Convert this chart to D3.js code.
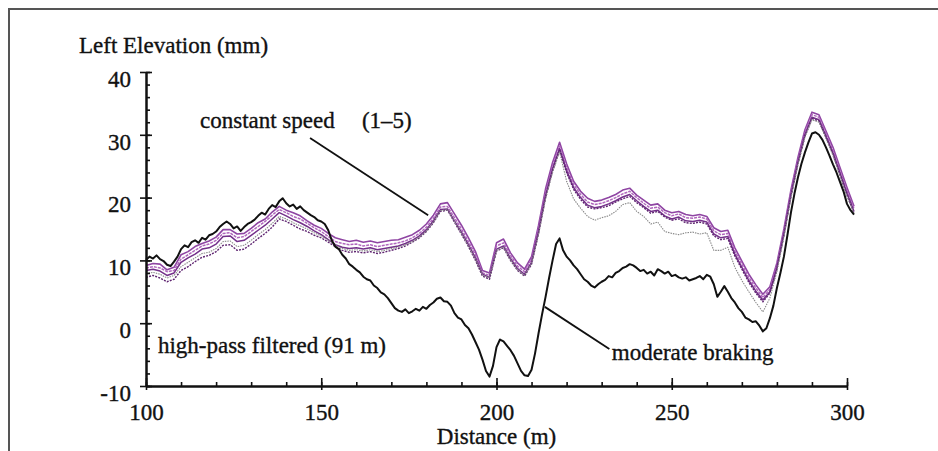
<!DOCTYPE html>
<html>
<head>
<meta charset="utf-8">
<script src="https://cdn.jsdelivr.net/npm/d3@7"></script>
<style>
  body { margin: 0; background: #fff; }
  svg { display: block; }
  text { font-family: "Liberation Serif", "Times New Roman", serif; fill: #111; stroke: #111; stroke-width: 0.35px; }
</style>
</head>
<body>
<div id="chart"></div>
<script>
// distances (m)
const distFine = d3.range(100, 303, 1);
const distCoarse = d3.range(100, 303, 2);

// moderate braking run, 1 m steps from 100 to 302
const braking = [
	10.1, 10.6, 10.3, 10.8, 10.2, 9.9, 9.3, 9.1, 9.8, 10.6,
	11.8, 12.4, 12.1, 12.9, 13.2, 12.8, 13.6, 13.3, 14.0, 14.2,
	14.6, 15.3, 15.8, 16.2, 15.8, 15.1, 15.4, 14.7, 15.3, 15.8,
	16.1, 16.5, 17.1, 17.6, 17.3, 18.2, 18.8, 18.5, 19.4, 19.9,
	19.1, 18.6, 18.9, 18.2, 18.6, 18.0, 17.6, 17.2, 16.9, 16.4,
	16.2, 15.8, 14.8, 13.2, 12.2, 11.8, 10.9, 10.3, 9.4, 9.0,
	8.5, 8.1, 7.4, 7.0, 6.8, 6.0, 5.6, 4.9, 4.6, 4.0,
	3.2, 2.4, 2.0, 1.8, 2.2, 1.6, 1.9, 2.3, 2.0, 2.6,
	2.3, 2.9, 3.3, 3.9, 4.1, 3.5, 3.4, 2.8, 1.6, 0.9,
	0.6, -0.3, -0.8, -1.8, -3.0, -4.2, -5.8, -7.6, -8.5, -6.8,
	-3.8, -2.6, -2.9, -3.6, -4.3, -5.2, -6.4, -7.6, -8.3, -8.4,
	-7.4, -4.8, -1.6, 1.4, 4.2, 7.2, 10.0, 12.6, 13.5, 11.6,
	10.6, 10.0, 9.2, 8.6, 7.8, 7.0, 6.6, 6.0, 5.7, 6.2,
	6.6, 6.9, 7.5, 7.3, 8.0, 8.3, 8.8, 9.0, 9.4, 9.2,
	8.8, 8.3, 8.5, 7.9, 8.2, 7.6, 8.6, 8.3, 7.9, 8.2,
	7.5, 7.7, 7.3, 7.1, 7.3, 6.8, 7.0, 7.2, 7.5, 7.0,
	7.7, 7.4, 6.2, 4.2, 5.0, 5.9, 5.0, 4.0, 3.3, 2.4,
	1.8, 0.9, 0.6, 0.2, 0.3, -0.4, -1.3, -0.8, 0.8, 2.8,
	5.6, 8.0, 10.6, 14.0, 17.6, 20.6, 23.2, 25.4, 27.2, 28.8,
	30.2, 30.4, 30.0, 29.2, 28.0, 26.7, 25.3, 24.0, 22.5, 21.0,
	19.0, 18.0, 17.3,
];

// constant speed runs 1-5, 2 m steps from 100 to 302
const run1 = [
	9.2, 9.5, 9.4, 8.5, 8.9, 10.9, 11.4, 12.2, 12.7, 13.1,
	13.7, 14.9, 14.9, 14.2, 14.3, 15.1, 16.0, 16.6, 17.7, 18.6,
	18.0, 17.6, 17.1, 16.3, 15.6, 15.1, 14.3, 13.6, 13.3, 13.0,
	13.2, 12.9, 13.1, 12.8, 13.0, 13.2, 13.3, 13.7, 14.1, 14.8,
	15.8, 17.2, 19.0, 19.2, 17.4, 15.6, 13.6, 11.4, 8.4, 8.0,
	12.8, 13.4, 11.2, 9.6, 8.6, 10.6, 15.6, 21.4, 25.6, 28.8,
	25.4, 22.6, 21.0, 19.9, 19.4, 19.6, 20.0, 20.5, 21.2, 21.5,
	20.4, 19.6, 18.8, 19.0, 18.0, 17.6, 17.8, 17.3, 17.1, 17.3,
	17.0, 15.2, 14.6, 14.8, 12.0, 9.9, 7.8, 6.1, 4.6, 5.8,
	9.6, 15.0, 21.2, 26.4, 30.8, 33.6, 33.2, 30.6, 28.0, 24.8,
	21.6, 18.6,
];
const run2 = [
	8.8, 9.0, 8.8, 8.2, 8.4, 10.2, 10.9, 11.6, 12.3, 12.6,
	13.2, 14.3, 14.4, 13.6, 13.8, 14.6, 15.4, 16.2, 17.2, 18.1,
	17.6, 17.0, 16.6, 15.9, 15.2, 14.6, 13.8, 13.0, 12.7, 12.5,
	12.6, 12.3, 12.5, 12.2, 12.4, 12.6, 12.8, 13.1, 13.6, 14.3,
	15.3, 16.7, 18.5, 18.6, 16.8, 15.0, 13.0, 10.9, 8.0, 7.6,
	12.3, 12.8, 10.8, 9.1, 8.2, 10.2, 15.1, 20.8, 25.0, 28.2,
	24.8, 22.1, 20.5, 19.3, 18.9, 19.1, 19.5, 20.0, 20.6, 21.0,
	20.0, 19.1, 18.3, 18.5, 17.6, 17.1, 17.4, 16.8, 16.7, 16.9,
	16.6, 14.7, 14.1, 14.3, 11.5, 9.4, 7.3, 5.6, 4.1, 5.4,
	9.2, 14.6, 20.8, 26.0, 30.4, 33.2, 32.8, 30.2, 27.5, 24.3,
	21.1, 18.2,
];
const run3 = [
	8.4, 8.6, 8.3, 7.6, 8.0, 9.7, 10.4, 11.0, 11.8, 12.0,
	12.6, 13.8, 13.9, 13.0, 13.2, 14.0, 14.8, 15.6, 16.6, 17.6,
	17.1, 16.5, 16.0, 15.4, 14.7, 14.1, 13.3, 12.5, 12.1, 11.9,
	12.0, 11.8, 12.0, 11.7, 11.9, 12.1, 12.3, 12.7, 13.2, 13.9,
	14.9, 16.3, 18.1, 18.2, 16.3, 14.5, 12.5, 10.4, 7.8, 7.3,
	11.8, 12.3, 10.3, 8.7, 7.8, 9.7, 14.6, 20.3, 24.6, 27.8,
	24.3, 21.6, 20.0, 18.8, 18.4, 18.6, 19.0, 19.5, 20.1, 20.5,
	19.5, 18.6, 17.8, 18.0, 17.1, 16.6, 16.9, 16.3, 16.2, 16.4,
	16.1, 14.2, 13.6, 13.8, 11.0, 8.9, 6.8, 5.1, 3.7, 5.0,
	8.8, 14.2, 20.4, 25.6, 30.0, 32.8, 32.4, 29.8, 27.1, 23.9,
	20.7, 17.8,
];
const run4 = [
	7.3, 7.6, 7.2, 6.6, 7.0, 8.4, 9.0, 9.8, 10.5, 10.8,
	11.4, 12.4, 12.5, 11.6, 11.8, 12.6, 13.5, 14.3, 15.3, 16.6,
	16.2, 15.6, 15.0, 14.6, 14.0, 13.6, 12.9, 12.2, 11.6, 11.3,
	11.4, 11.2, 11.4, 11.1, 11.3, 11.6, 11.9, 12.3, 12.9, 13.6,
	14.6, 16.0, 17.8, 18.0, 16.1, 14.2, 12.2, 10.0, 7.5, 7.0,
	11.5, 12.0, 10.0, 8.4, 7.5, 9.4, 14.3, 20.0, 24.3, 27.6,
	24.0, 21.3, 19.7, 18.5, 18.2, 18.4, 18.7, 19.3, 19.8, 20.2,
	19.2, 18.4, 17.5, 17.8, 16.9, 16.4, 16.6, 16.0, 15.9, 16.1,
	15.8, 13.9, 13.3, 13.5, 10.7, 8.6, 6.5, 4.8, 3.4, 4.8,
	8.6, 14.0, 20.2, 25.4, 29.8, 32.6, 32.2, 29.6, 26.9, 23.6,
	20.4, 17.6,
];
const run5 = [
	7.9, 8.1, 7.8, 7.2, 7.6, 9.0, 9.7, 10.4, 11.1, 11.3,
	11.9, 13.0, 13.1, 12.2, 12.4, 13.2, 14.1, 14.9, 15.9, 17.0,
	16.6, 16.0, 15.5, 15.0, 14.4, 13.9, 13.2, 12.4, 11.9, 11.6,
	11.7, 11.5, 11.7, 11.4, 11.6, 11.9, 12.1, 12.5, 13.0, 13.7,
	14.7, 16.1, 17.9, 18.1, 16.2, 14.3, 12.3, 10.2, 7.7, 7.2,
	11.6, 12.1, 10.1, 8.5, 7.6, 9.5, 14.2, 19.8, 24.0, 27.3,
	22.6, 19.8, 18.3, 17.0, 16.4, 16.8, 17.1, 17.8, 18.9, 19.2,
	17.8, 17.0, 15.8, 16.1, 14.6, 14.3, 14.1, 14.4, 14.5, 14.2,
	14.4, 11.6, 11.6, 12.1, 8.9, 6.8, 5.0, 3.3, 1.8, 4.0,
	8.2, 13.7, 19.9, 25.2, 29.6, 32.4, 32.0, 29.4, 26.7, 23.4,
	20.2, 17.5,
];

const runColors = ['#8f45a3', '#b066bd', '#74308a', '#5e2470', '#8a8a8a'];
const runWidths = [1.6, 1.5, 1.5, 1.4, 1.1];
const runDashes = [null, '3,1', null, '2,1.2', '1.5,1'];

const xMajor = [100, 150, 200, 250, 300];
const yMajor = [-10, 0, 10, 20, 30, 40];

const width = 938;
const height = 451;

const svg = d3.select('#chart').append('svg')
	.attr('width', width)
	.attr('height', height);

// frame
svg.append('rect')
	.attr('x', 9).attr('y', 9)
	.attr('width', 940).attr('height', 450)
	.attr('fill', 'none')
	.attr('stroke', '#555')
	.attr('stroke-width', 2);

const x = d3.scaleLinear().domain([100, 300]).range([146, 847]);
const y = d3.scaleLinear().domain([-10, 40]).range([386, 72]);

// curves
const runs = [run1, run2, run3, run4, run5];
const line = d3.line()
	.x(d => x(d[0]))
	.y(d => y(d[1]));

svg.selectAll('.run')
	.data(runs)
	.enter().append('path')
		.attr('class', 'run')
		.attr('d', r => line(r.map((v, i) => [distCoarse[i], v])))
		.attr('fill', 'none')
		.attr('stroke', (r, i) => runColors[i])
		.attr('stroke-width', (r, i) => runWidths[i])
		.attr('stroke-dasharray', (r, i) => runDashes[i])
		.attr('stroke-linejoin', 'round');

svg.append('path')
	.attr('d', line(braking.map((v, i) => [distFine[i], v])))
	.attr('fill', 'none')
	.attr('stroke', '#111')
	.attr('stroke-width', 2)
	.attr('stroke-linejoin', 'round');

// axes: one labelled axis each, plus helper tick sets with no domain line
const fmt = d => String(d);
const yAxisMajor = d3.axisLeft(y).tickValues(yMajor).tickSize(6).tickSizeOuter(0).tickPadding(9).tickFormat(fmt);
const xAxisMajor = d3.axisBottom(x).tickValues(xMajor).tickSize(4).tickSizeOuter(0).tickPadding(14).tickFormat(fmt);

svg.append('g')
	.attr('class', 'y axis helper')
	.attr('transform', `translate(${x(100)},0)`)
	.call(d3.axisRight(y).ticks(25).tickSize(4).tickFormat(''));
svg.append('g')
	.attr('class', 'y axis helper')
	.attr('transform', `translate(${x(100)},0)`)
	.call(d3.axisRight(y).tickValues(yMajor).tickSize(6).tickFormat(''));
svg.append('g')
	.attr('class', 'y axis major')
	.attr('transform', `translate(${x(100)},0)`)
	.call(yAxisMajor);

svg.append('g')
	.attr('class', 'x axis helper')
	.attr('transform', `translate(0,${y(-10)})`)
	.call(d3.axisTop(x).ticks(20).tickSize(4).tickFormat(''));
svg.append('g')
	.attr('class', 'x axis helper')
	.attr('transform', `translate(0,${y(-10)})`)
	.call(d3.axisTop(x).tickValues(xMajor).tickSize(8).tickFormat(''));
svg.append('g')
	.attr('class', 'x axis major')
	.attr('transform', `translate(0,${y(-10)})`)
	.call(xAxisMajor);

svg.selectAll('.axis.helper path.domain').remove();
svg.selectAll('.axis path.domain').attr('stroke', '#111').attr('stroke-width', 2.5);
svg.selectAll('.axis .tick line').attr('stroke', '#111').attr('stroke-width', 1.6);
svg.selectAll('.axis text')
	.style('font-family', '"Liberation Serif", serif')
	.style('font-size', '23px')
	.attr('fill', '#111');
svg.selectAll('.y.axis.major .tick text').attr('dy', '0.62em');

// titles
svg.append('text')
	.attr('x', 79).attr('y', 53)
	.style('font-size', '23px')
	.text('Left Elevation (mm)');
svg.append('text')
	.attr('x', x(200)).attr('y', 444)
	.attr('text-anchor', 'middle')
	.style('font-size', '23px')
	.text('Distance (m)');

// annotations (anchors in data units)
const notes = [
	{ text: 'constant speed', d: 115.4, v: 31.1 },
	{ text: '(1–5)', d: 161.6, v: 31.1 },
	{ text: 'high-pass filtered (91 m)', d: 103.4, v: -4.7 },
	{ text: 'moderate braking', d: 232.9, v: -5.9 },
];
const leaders = [
	[[146.8, 29.5], [180.5, 17.2]],
	[[213.8, 2.6], [232.2, -4.1]],
];

svg.selectAll('.note')
	.data(notes)
	.enter().append('text')
		.attr('class', 'note')
		.attr('x', d => x(d.d))
		.attr('y', d => y(d.v))
		.style('font-size', '23px')
		.text(d => d.text);

svg.selectAll('.leader')
	.data(leaders)
	.enter().append('path')
		.attr('class', 'leader')
		.attr('d', d => line(d))
		.attr('stroke', '#111')
		.attr('stroke-width', 1.8)
		.attr('fill', 'none');
</script>
</body>
</html>
